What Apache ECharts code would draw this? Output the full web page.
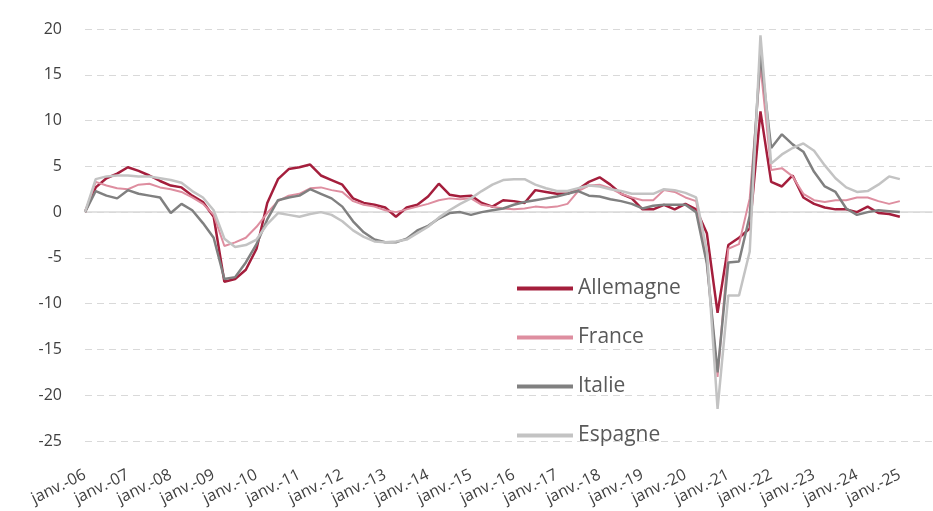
<!DOCTYPE html>
<html>
<head>
<meta charset="utf-8">
<script src="https://cdn.jsdelivr.net/npm/echarts@6/dist/echarts.min.js"></script>
<style>
html,body{margin:0;padding:0;background:#fff;}
#chart{width:933px;height:511px;}
</style>
</head>
<body>
<div id="chart"></div>
<script>
// étiquettes des années (un trimestre sur quatre est affiché)
var years = ['06','07','08','09','10','11','12','13','14','15','16','17','18','19','20','21','22','23','24','25'];
var months = ['janv.','avr.','juil.','oct.'];

// séries trimestrielles
var allemagne = [0,2.7,3.7,4.2,4.9,4.5,4.0,3.4,2.9,2.7,1.8,1.1,-0.5,-7.6,-7.3,-6.3,-4.0,1.0,3.6,4.7,
	4.9,5.2,4.0,3.5,3.0,1.5,1.0,0.8,0.5,-0.5,0.5,0.8,1.7,3.1,1.9,1.7,1.8,1.0,0.6,1.3,
	1.2,1.0,2.4,2.2,2.0,2.0,2.5,3.3,3.8,3.0,2.0,1.5,0.3,0.3,0.8,0.3,0.9,0.3,-2.3,-11.0,
	-3.6,-2.8,-1.8,11.0,3.3,2.8,4.0,1.6,0.9,0.5,0.3,0.3,0.0,0.6,-0.1,-0.2,-0.5];
var france = [0,3.3,2.9,2.6,2.5,3.0,3.1,2.7,2.5,2.2,1.6,0.9,-0.3,-3.7,-3.3,-2.8,-1.6,-0.1,1.2,1.8,
	2.0,2.6,2.7,2.4,2.2,1.2,0.8,0.6,0.2,0.0,0.3,0.6,0.9,1.3,1.5,1.4,1.5,0.8,0.6,0.4,
	0.3,0.4,0.6,0.5,0.6,0.9,2.3,2.9,3.0,2.6,2.0,1.6,1.3,1.3,2.4,2.2,1.6,1.2,-5.5,-18.0,
	-4.0,-3.5,1.5,16.0,4.6,4.8,3.9,2.0,1.3,1.1,1.3,1.3,1.6,1.6,1.2,0.9,1.2];
var italie = [0,2.3,1.8,1.5,2.4,2.0,1.8,1.6,-0.1,0.9,0.2,-1.2,-2.8,-7.3,-7.1,-5.5,-3.5,-0.8,1.3,1.6,
	1.8,2.5,2.0,1.5,0.6,-1.0,-2.2,-3.0,-3.3,-3.3,-2.9,-2.0,-1.5,-0.7,-0.1,0.0,-0.3,0.0,0.2,0.4,
	0.8,1.1,1.3,1.5,1.7,2.0,2.3,1.8,1.7,1.4,1.2,0.9,0.4,0.7,0.8,0.8,0.8,0.0,-5.6,-17.5,
	-5.5,-5.4,-0.4,17.3,7.0,8.5,7.4,6.6,4.4,2.8,2.2,0.4,-0.3,0.0,0.2,0.1,0.0];
var espagne = [0,3.6,3.9,4.0,4.0,3.9,3.9,3.7,3.5,3.2,2.3,1.6,0.2,-2.9,-3.8,-3.6,-3.0,-1.3,-0.1,-0.3,
	-0.5,-0.2,0.0,-0.3,-1.0,-2.0,-2.7,-3.2,-3.3,-3.2,-3.0,-2.3,-1.6,-0.6,0.2,0.9,1.5,2.3,3.0,3.5,
	3.6,3.6,3.0,2.6,2.3,2.3,2.6,2.9,2.8,2.5,2.3,2.0,2.0,2.0,2.5,2.4,2.1,1.6,-4.2,-21.5,
	-9.1,-9.1,-4.3,19.3,5.3,6.3,7.0,7.5,6.7,5.1,3.7,2.7,2.2,2.3,3.0,3.9,3.6];

var colors = ['#A41E3C','#DE8EA0','#808080','#C3C3C3'];

// liste des trimestres pour l'axe des catégories
var categories = [];
years.forEach(function(y){
	months.forEach(function(m){
		categories.push(m + '-' + y);
	});
});

var myChart = echarts.init(document.getElementById('chart'));

var option = {
	backgroundColor: '#fff',
	animation: false,
	color: colors,
	grid: {left: 85, right: 1, top: 29, bottom: 70},
	legend: {
		orient: 'vertical',
		left: 512,
		top: 273,
		itemWidth: 56,
		itemHeight: 4,
		itemGap: 28,
		icon: 'rect',
		textStyle: {fontFamily: 'Open Sans', fontSize: 21, color: '#595959'},
		data: ['Allemagne','France','Italie','Espagne']
	},
	xAxis: [{
		type: 'category',
		data: categories,
		boundaryGap: false,
		axisLine: {show: false, onZero: false},
		axisTick: {show: false},
		axisLabel: {
			interval: 3, // une étiquette par an (janvier)
			rotate: 26,
			margin: 33,
			fontFamily: 'Open Sans',
			fontSize: 16,
			lineHeight: 16,
			color: '#404040'
		},
		splitLine: {show: false}
	}, {
		// ligne du zéro
		type: 'category',
		data: categories,
		boundaryGap: false,
		position: 'bottom',
		axisLine: {show: true, onZero: true, lineStyle: {color: '#D9D9D9', width: 1.5}},
		axisTick: {show: false},
		axisLabel: {show: false}
	}],
	yAxis: {
		type: 'value',
		min: -25,
		max: 20,
		interval: 5,
		axisLine: {show: false},
		axisTick: {show: false},
		axisLabel: {margin: 23, fontFamily: 'Open Sans', fontSize: 16, color: '#404040'},
		splitLine: {lineStyle: {color: '#D9D9D9', type: [7, 5], width: 1}}
	},
	series: [
		{name: 'Allemagne', type: 'line', data: allemagne, showSymbol: false, lineStyle: {width: 2.5}},
		{name: 'France', type: 'line', data: france, showSymbol: false, lineStyle: {width: 2}},
		{name: 'Italie', type: 'line', data: italie, showSymbol: false, lineStyle: {width: 2.5}},
		{name: 'Espagne', type: 'line', data: espagne, showSymbol: false, lineStyle: {width: 2.5}}
	]
};

myChart.setOption(option);
</script>
</body>
</html>
